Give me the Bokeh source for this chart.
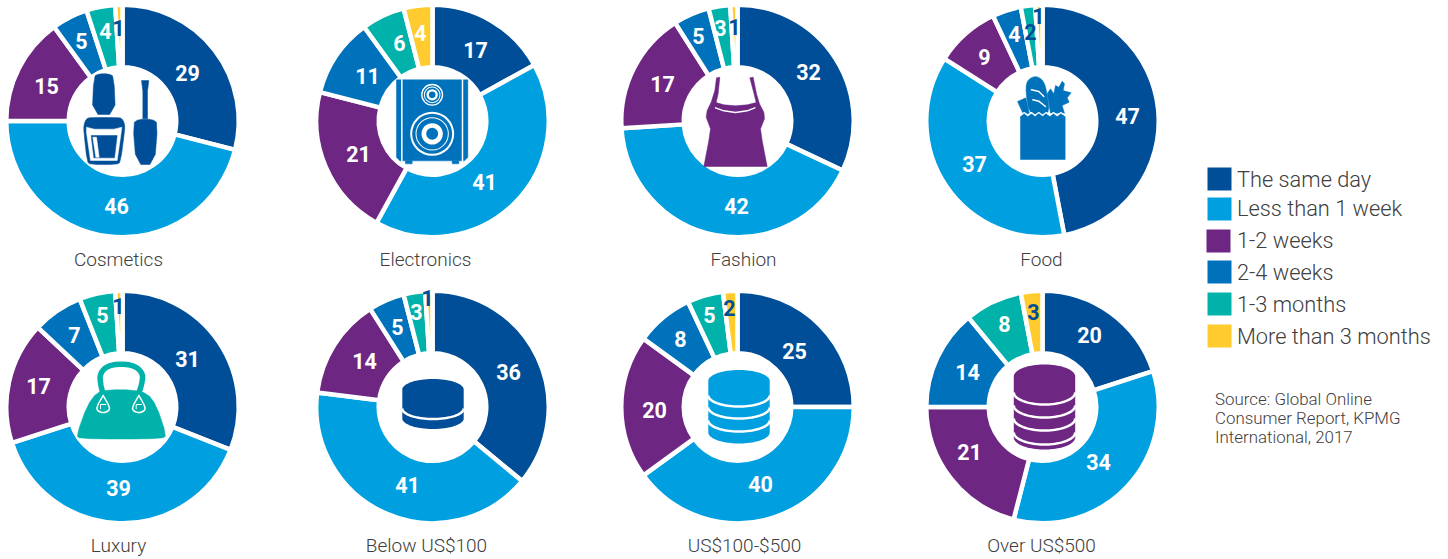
from math import pi
import numpy as np
from bokeh.plotting import figure
from bokeh.models import Range1d, ColumnDataSource
from bokeh.core.properties import value
from bokeh.embed import file_html
from bokeh.resources import INLINE

categories = ["Cosmetics", "Electronics", "Fashion", "Food", "Luxury", "Below US$100", "US$100-$500", "Over US$500"]
series_names = ["The same day", "Less than 1 week", "1-2 weeks", "2-4 weeks", "1-3 months", "More than 3 months"]
same_day = [29, 17, 32, 47, 31, 36, 25, 20]
less_than_1_week = [46, 41, 42, 37, 39, 41, 40, 34]
one_two_weeks = [15, 21, 17, 9, 17, 14, 20, 21]
two_four_weeks = [5, 11, 5, 4, 7, 5, 8, 14]
one_three_months = [4, 6, 3, 2, 5, 3, 5, 8]
more_than_3_months = [1, 4, 1, 1, 1, 1, 2, 3]
source_lines = ["Source: Global Online", "Consumer Report, KPMG", "International, 2017"]

DARK, LIGHT, PURPLE, MID, TEAL, YELLOW = "#004E98", "#009FDF", "#6D2783", "#0072BC", "#00B2A9", "#FFCB2F"
colors = [DARK, LIGHT, PURPLE, MID, TEAL, YELLOW]
GREY = "#404040"
LIGHTFONT = value("Roboto Light")
BOLDFONT = value("Roboto")

# layout (page pixels)
centres = [(122, 120.5), (432, 120.5), (737, 120.5), (1042, 120.5),
           (122, 406.5), (432, 406.5), (737, 406.5), (1042, 406.5)]
R_OUT, R_IN, GAP = 114, 56, 4.5
label_pos = [
    [(187, 72), (116, 205), (46, 85), (81, 40), (105, 30), (118, 27)],
    [(475, 49), (484, 181), (358, 153), (367, 75), (399, 42), (420, 32)],
    [(808, 71), (736, 205), (662, 83), (698, 35), (720, 27), (734, 26)],
    [(1127, 115), (974, 163), (984, 56), (1014, 33), (1030, 31), (1038, 15)],
    [(187, 358), (118, 487), (38, 385), (74, 334), (102, 314), (118, 305)],
    [(508, 371), (407, 484), (364, 360), (397, 326), (416, 311), (427, 297)],
    [(794, 350), (760, 483), (654, 409), (680, 338), (709, 314), (729, 307)],
    [(1089, 334), (1098, 461), (969, 451), (967, 371), (1004, 323), (1033, 311)],
]
dark_labels = {(0, 5), (2, 5), (3, 4), (3, 5), (4, 5), (5, 5), (6, 5), (7, 5)}
cat_label_xy = [(118, 259), (425, 259), (743, 259), (1041, 259),
                (118, 545), (426, 545), (744, 545), (1041, 545)]

p = figure(width=1448, height=559, output_backend="svg", toolbar_location=None,
           x_range=Range1d(0, 1448), y_range=Range1d(559, 0),
           min_border=0, min_border_left=0, min_border_right=0, min_border_top=0, min_border_bottom=0,
           outline_line_color=None, background_fill_color="white", border_fill_color="white")
p.axis.visible = False
p.grid.visible = False

table = [same_day, less_than_1_week, one_two_weeks, two_four_weeks, one_three_months, more_than_3_months]
for i, cat in enumerate(categories):
    vals = np.array([s[i] for s in table], dtype=float)
    frac = np.cumsum(vals) / vals.sum()
    ends = pi / 2 - 2 * pi * frac
    starts = np.concatenate(([pi / 2], ends[:-1]))
    cx, cy = centres[i]
    src = ColumnDataSource(dict(x=[cx] * 6, y=[cy] * 6, s=starts, e=ends, c=colors))
    p.annular_wedge(x="x", y="y", inner_radius=R_IN - GAP / 2, outer_radius=R_OUT + GAP / 2,
                    start_angle="s", end_angle="e", direction="clock", fill_color="c",
                    line_color="white", line_width=GAP, source=src)
    lx = [q[0] for q in label_pos[i]]
    ly = [q[1] for q in label_pos[i]]
    lc = [DARK if (i, j) in dark_labels else "white" for j in range(6)]
    src2 = ColumnDataSource(dict(x=lx, y=ly, t=[str(int(v)) for v in vals], c=lc))
    p.text(x="x", y="y", text="t", text_color="c", source=src2, text_font=BOLDFONT,
           text_font_style="bold", text_font_size="21.5px", text_align="center", text_baseline="middle")

p.text(x=[q[0] for q in cat_label_xy], y=[q[1] for q in cat_label_xy], text=categories,
       text_font=LIGHTFONT, text_font_size="19px", text_color=GREY,
       text_align="center", text_baseline="middle")

# legend
sw_top = [167, 197, 229, 260, 292, 324]
sw_x = [1207, 1207, 1206, 1207, 1207, 1207]
legend_y = [179, 208, 240, 272, 304, 336]
p.quad(left=sw_x, right=[x + 24 for x in sw_x], top=sw_top, bottom=[t + 23 for t in sw_top],
       fill_color=colors, line_color=None)
p.text(x=[1236.5] * 6, y=legend_y, text=series_names, text_font=LIGHTFONT, text_font_size="21.8px",
       text_color=GREY, text_align="left", text_baseline="middle")
p.text(x=[1214.5] * 3, y=[398.5, 417.5, 436], text=source_lines, text_font=LIGHTFONT, text_font_size="16.9px",
       text_color=GREY, text_align="left", text_baseline="middle")


def chaikin(pts, n=2):
    a = np.array(pts, dtype=float)
    for _ in range(n):
        b = np.roll(a, -1, axis=0)
        a = np.column_stack((0.75 * a + 0.25 * b, 0.25 * a + 0.75 * b)).reshape(-1, 2)
    return [tuple(q) for q in a]

def chaikin_open(pts, n=2):
    a = np.array(pts, dtype=float)
    for _ in range(n):
        q = 0.75 * a[:-1] + 0.25 * a[1:]
        r = 0.25 * a[:-1] + 0.75 * a[1:]
        mid = np.column_stack((q, r)).reshape(-1, 2)
        a = np.vstack((a[:1], mid, a[-1:]))
    return [tuple(q) for q in a]

def Z(pts, ox, oy):
    return [ox + a / 3 for a, b in pts], [oy + b / 3 for a, b in pts]

def poly(pts, ox, oy, color):
    x, y = Z(pts, ox, oy)
    p.patch(x, y, fill_color=color, line_color=color, line_width=0.5, line_join="round")

def stroke(pts, ox, oy, color, w):
    x, y = Z(pts, ox, oy)
    p.line(x, y, line_color=color, line_width=w, line_cap="round", line_join="round")

def disc(x, y, r, color):
    p.circle([x], [y], radius=r, fill_color=color, line_color=None)

# cosmetics
o = (0, 0)
poly(chaikin([(280, 228), (295, 220), (325, 220), (340, 228), (345, 342), (275, 342)], 1), *o, DARK)
poly(chaikin([(250, 372), (258, 354), (270, 351), (352, 351), (365, 354), (373, 372), (372, 395), (360, 484), (350, 492),
      (270, 492), (260, 484), (250, 395)], 1), *o, DARK)
poly([(258, 380), (282, 386), (340, 386), (364, 380), (362, 396), (350, 480), (270, 480), (258, 396)], *o, "white")
poly([(272, 405), (350, 405), (342, 472), (280, 472)], *o, DARK)
poly([(277, 410), (288, 410), (296, 470), (286, 470)], *o, "white")
poly([(423, 240), (445, 240), (441, 272), (441, 355), (427, 355), (427, 272)], *o, DARK)
poly(chaikin([(397, 368), (415, 356), (455, 356), (472, 368), (462, 492), (407, 492)], 1), *o, DARK)

# electronics
o = (310, 0)
poly([(258, 238), (472, 238), (472, 470), (462, 481), (268, 481), (258, 470)], *o, MID)
poly([(285, 481), (305, 481), (305, 490), (285, 490)], *o, MID)
poly([(425, 481), (445, 481), (445, 490), (425, 490)], *o, MID)
stroke([(274, 238), (274, 481)], *o, "white", 1.5)
stroke([(456, 238), (456, 481)], *o, "white", 1.5)
for r3, c in [(33, "white"), (29, MID), (25, "white"), (22, MID), (17, "white"), (10, MID)]:
    disc(o[0] + 365 / 3, o[1] + 283 / 3, r3 / 3, c)
for r3, c in [(66, "white"), (60, MID), (50, "white"), (47, MID), (32, "white"), (18, MID)]:
    disc(o[0] + 365 / 3, o[1] + 400 / 3, r3 / 3, c)

# fashion
o = (660, 60)
poly([(168, 52), (178, 50), (173, 100), (167, 126), (190, 133), (225, 136), (260, 133), (287, 126), (278, 90), (268, 52),
      (278, 50), (288, 100), (297, 130), (310, 155), (312, 175), (300, 205), (305, 240), (320, 318), (130, 318),
      (145, 240), (150, 205), (137, 170), (140, 150), (152, 125), (163, 90)], *o, PURPLE)
stroke([(165, 142), (190, 151), (225, 156), (260, 151), (283, 142)], *o, "white", 1.5)

# food
o = (660, 60)
poly([(1071, 123), (1096, 112), (1107, 160), (1088, 160)], *o, MID)
poly(chaikin([(1108, 165), (1096, 100), (1098, 60), (1125, 45), (1150, 60), (1160, 100), (1168, 165)], 2), *o, MID)
stroke([(1113, 88), (1135, 93), (1150, 108)], *o, "white", 1.5)
stroke([(1117, 118), (1135, 122), (1155, 138)], *o, "white", 1.5)
poly([(1170, 158), (1160, 100), (1170, 85), (1180, 100), (1185, 75), (1195, 80), (1205, 62), (1212, 70), (1208, 90),
      (1232, 97), (1220, 112), (1226, 125), (1205, 135), (1212, 158)], *o, MID)
zig = [(1080, 168), (1091, 160), (1102, 168), (1113, 160), (1124, 168), (1135, 160), (1146, 168), (1157, 160),
       (1168, 168), (1179, 160), (1190, 168), (1201, 160), (1214, 168)]
poly(zig + [(1214, 297), (1080, 297)], *o, MID)
stroke([(a, b - 4) for a, b in zig], *o, "white", 1.2)

# luxury
o = (50, 350)
stroke(chaikin_open([(157, 128), (150, 100), (148, 70), (170, 46), (212, 40), (254, 46), (278, 70), (274, 100), (265, 128)], 2), *o, TEAL, 5.5)
poly(chaikin([(78, 255), (110, 165), (140, 125), (175, 118), (245, 118), (290, 128), (318, 165), (348, 255), (335, 264),
      (210, 266), (88, 264)], 1), *o, TEAL)
for cxh in (158, 265):
    x = [cxh, cxh + 20, cxh + 16, cxh, cxh - 16, cxh - 20, cxh]
    y = [135, 170, 182, 187, 182, 170, 135]
    stroke(chaikin_open(list(zip(x, y)), 1), *o, "white", 1.5)
    stroke([(cxh - 8, 175), (cxh - 8, 162), (cxh + 8, 162)], *o, "white", 1)


# databases
def db(cx, top, bottom, ry, color, arcs):
    rx = 30.7
    t = np.linspace(0, pi, 40)
    xs = cx + rx * np.cos(t)
    yt = top + ry - ry * np.sin(t)
    yb = bottom - ry + ry * np.sin(t)
    p.patch(list(xs) + list(xs[::-1]), list(yt) + list(yb[::-1]), fill_color=color, line_color=None)
    for a in arcs:
        p.line(list(xs), list(a + ry * np.sin(t)), line_color="white", line_width=2.5)

db(432.5, 378.5, 428.5, 10.5, DARK, [408])
db(738.5, 369.5, 443, 11, LIGHT, [395, 407, 420])
db(1044, 364, 449, 12, PURPLE, [392, 405, 418, 432])

open("out.html", "w").write(file_html(p, INLINE))
